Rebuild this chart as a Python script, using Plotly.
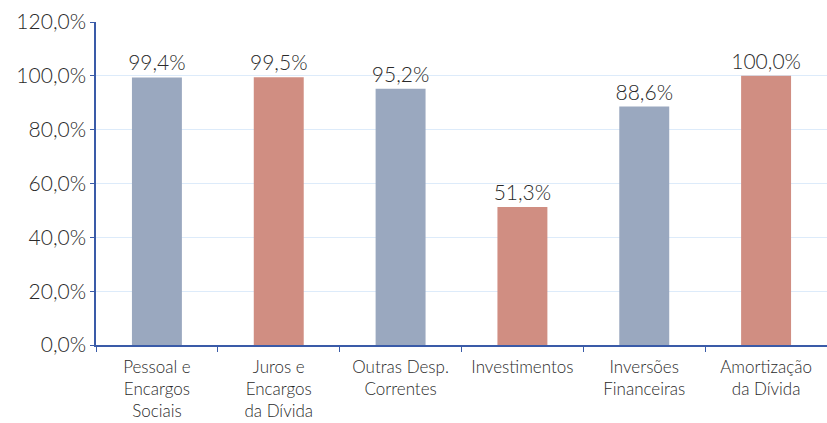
import plotly.graph_objects as go

categories = [
    "Pessoal e<br>Encargos<br>Sociais",
    "Juros e<br>Encargos<br>da Dívida",
    "Outras Desp.<br>Correntes",
    "Investimentos",
    "Inversões<br>Financeiras",
    "Amortização<br>da Dívida",
]
values = [99.4, 99.5, 95.2, 51.3, 88.6, 100.0]
colors = ["#9AA8BF", "#D08E82", "#9AA8BF", "#D08E82", "#9AA8BF", "#D08E82"]
y_ticks = [0, 20, 40, 60, 80, 100, 120]
y_tick_labels = ["0,0%", "20,0%", "40,0%", "60,0%", "80,0%", "100,0%", "120,0%"]

labels = [f"{v:.1f}".replace(".", ",") + "%" for v in values]

font_family = "Lato"
text_color = "#2A2A2A"

fig = go.Figure(
    go.Bar(
        x=categories,
        y=values,
        marker=dict(color=colors, line=dict(width=0)),
        text=labels,
        textposition="outside",
        constraintext="none",
        cliponaxis=False,
        textfont=dict(family=font_family, size=21, color=text_color, weight=300),
    )
)

fig.update_layout(
    width=827,
    height=423,
    margin=dict(l=96, r=0, t=22, b=78),
    paper_bgcolor="white",
    plot_bgcolor="white",
    bargap=0.59,
    showlegend=False,
    font=dict(family=font_family, color=text_color),
)

fig.update_yaxes(
    range=[0, 120],
    tickvals=y_ticks,
    ticktext=y_tick_labels,
    tickfont=dict(family=font_family, size=21, color=text_color, weight=300),
    showgrid=True,
    gridcolor="#DDEBFA",
    gridwidth=1,
    showline=True,
    linecolor="#3A5BA8",
    linewidth=1.5,
    ticks="outside",
    ticklen=4,
    tickcolor="#3A5BA8",
    zeroline=False,
)

fig.update_xaxes(
    tickfont=dict(family=font_family, size=17, color=text_color, weight=300),
    ticklabelstandoff=6,
    showline=True,
    linecolor="#3A5BA8",
    linewidth=1.5,
    ticks="outside",
    tickson="boundaries",
    ticklen=5,
    tickcolor="#3A5BA8",
    showgrid=False,
)

fig.write_html("out.html")
